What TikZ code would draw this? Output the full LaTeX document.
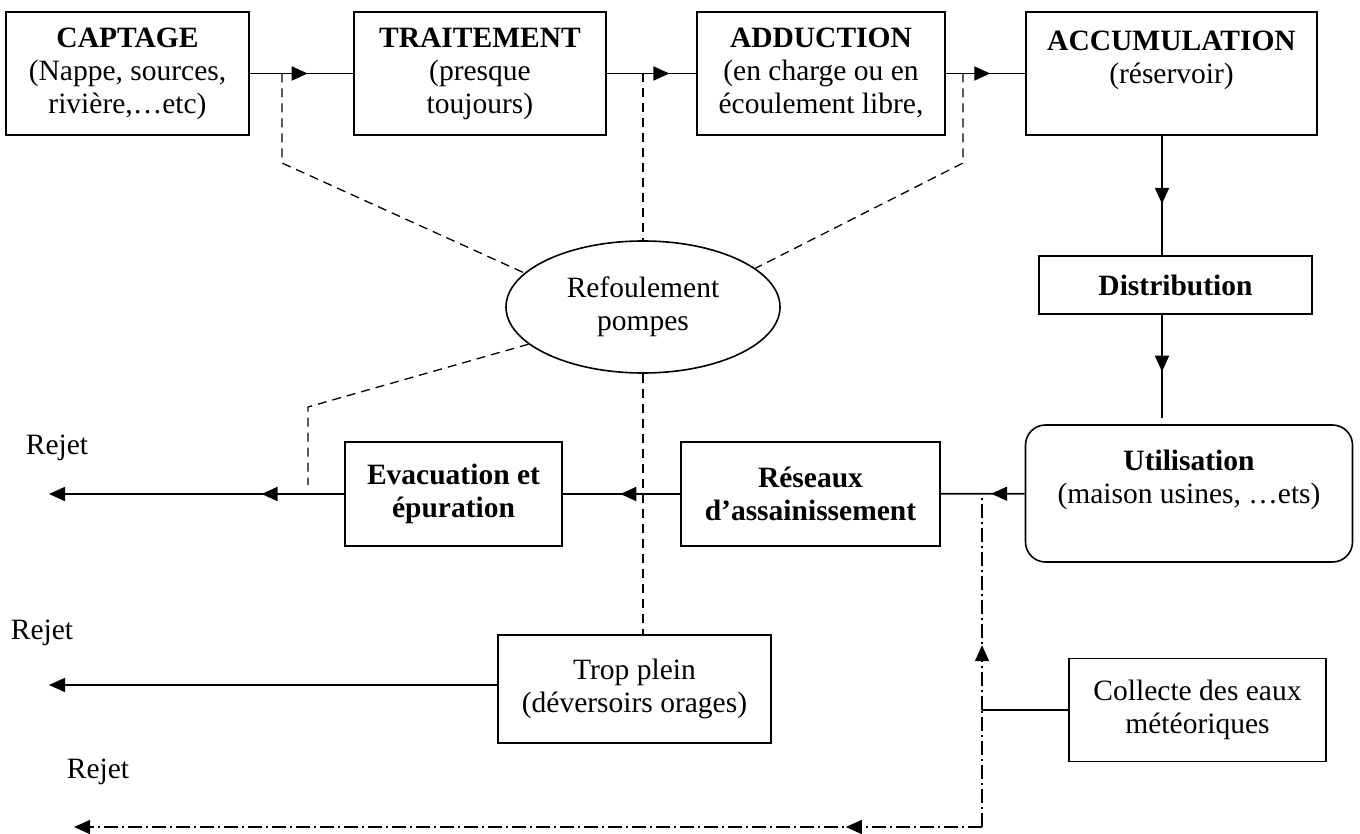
\documentclass[tikz,border=0pt]{standalone}
\usepackage{fontspec}
\setmainfont{Liberation Serif}
\usetikzlibrary{arrows.meta,shapes.geometric,decorations.markings}
\begin{document}
\begin{tikzpicture}[x=1pt,y=-1pt,>={Triangle[length=16pt,width=14pt]},
    font=\fontsize{29.5}{33}\selectfont,line width=1.8pt,
    box/.style={draw,line width=1.6pt,align=center,inner sep=0pt},
    pipe/.style={line width=1.3pt,dash pattern=on 9pt off 6pt},
    storm/.style={line width=1.3pt,dash pattern=on 14pt off 4pt on 2pt off 4pt},
    midarrow/.style={postaction={decorate},decoration={markings,
        mark=at position #1 with {\arrow{>}}}}]
    \useasboundingbox (0,0) rectangle (1360,834);
    \def\ya{73.5} \def\yb{494}
    % chaine d'alimentation
    \node[box,minimum width=243pt,minimum height=123pt] (captage) at (127.5,\ya)
        {\textbf{CAPTAGE}\\(Nappe, sources,\\rivière,…etc)};
    \node[box,minimum width=252pt,minimum height=123pt] (traitement) at (480,\ya)
        {\textbf{TRAITEMENT}\\(presque\\toujours)};
    \node[box,minimum width=248pt,minimum height=123pt] (adduction) at (821,\ya)
        {\textbf{ADDUCTION}\\(en charge ou en\\écoulement libre,};
    \node[box,minimum width=291pt,minimum height=123pt] (accumulation) at (1171.5,\ya)
        {\textbf{ACCUMULATION}\\(réservoir)\\\mbox{}};
    \node[box,minimum width=273pt,minimum height=58pt] (distribution) at (1175.5,285)
        {\textbf{Distribution}};
    \node[box,rounded corners=20pt,minimum width=327pt,minimum height=137pt] (utilisation) at (1189,493.5)
        {\textbf{Utilisation}\\(maison usines, …ets)\\\mbox{}};
    \node[ellipse,draw,line width=1.6pt,align=center,inner sep=0pt,
        minimum width=274pt,minimum height=132pt] (refoulement) at (643,307)
        {Refoulement\\pompes};
    % chaine d'evacuation
    \node[box,minimum width=259pt,minimum height=104pt] (reseaux) at (810.5,\yb)
        {\textbf{Réseaux}\\\textbf{d’assainissement}};
    \node[box,minimum width=217pt,minimum height=104pt] (evacuation) at (453.5,\yb)
        {\textbf{Evacuation et}\\\textbf{épuration}};
    \node[box,minimum width=273pt,minimum height=108pt] (tropplein) at (634.5,689)
        {Trop plein\\(déversoirs orages)};
    \node[box,minimum width=257pt,minimum height=103pt] (collecte) at (1197.5,710)
        {Collecte des eaux\\météoriques};
    \node (rejet1) at (57,448) {Rejet};
    \node (rejet2) at (42,633) {Rejet};
    \node (rejet3) at (98,772) {Rejet};
    %===========================================
    \coordinate (vx) at (1162,0);
    \coordinate (out1) at (49,\yb);
    \coordinate (out2) at (49,685);
    \coordinate (out3) at (74,827);
    \draw[midarrow=0.56] (captage) -- (traitement);
    \draw[midarrow=0.70] (traitement) -- (adduction);
    \draw[midarrow=0.56] (adduction) -- (accumulation);
    \draw[midarrow=0.57] (accumulation.south -| vx) -- (distribution.north -| vx);
    \draw[midarrow=0.52,shorten >=6pt] (distribution.south -| vx) -- (utilisation.north -| vx);
    \draw[midarrow=0.40] (utilisation) -- (reseaux);
    \draw[midarrow=0.51] (reseaux) -- (evacuation);
    \draw[->,midarrow=0.28] (evacuation) -- (out1);
    \draw[->] (tropplein.west |- out2) -- (out2);
    % refoulement
    \coordinate (t1) at (282,\ya); \coordinate (c1) at (282,163);
    \coordinate (t2) at (643,\ya);
    \coordinate (t3) at (963,\ya); \coordinate (c3) at (963,163);
    \coordinate (t4) at (308,485); \coordinate (c4) at (308,407);
    \draw[pipe] (t1) -- (c1) -- (refoulement.164);
    \draw[pipe] (t2) -- (refoulement.north);
    \draw[pipe] (t3) -- (c3) -- (refoulement.19);
    \draw[pipe] (refoulement.198) -- (c4) -- (t4);
    \draw[pipe] (refoulement.south) -- (refoulement.south |- tropplein.north);
    % eaux meteoriques
    \coordinate (jn) at (982,\yb);
    \coordinate (jc) at (982,710);
    \coordinate (jb) at (982,827);
    \draw[storm] (jb) -- (jc);
    \draw[storm,midarrow=0.3] (jc) -- (jn);
    \draw[storm,->,midarrow=0.15] (jb) -- (out3);
    \draw (collecte) -- (jc);
\end{tikzpicture}
\end{document}
